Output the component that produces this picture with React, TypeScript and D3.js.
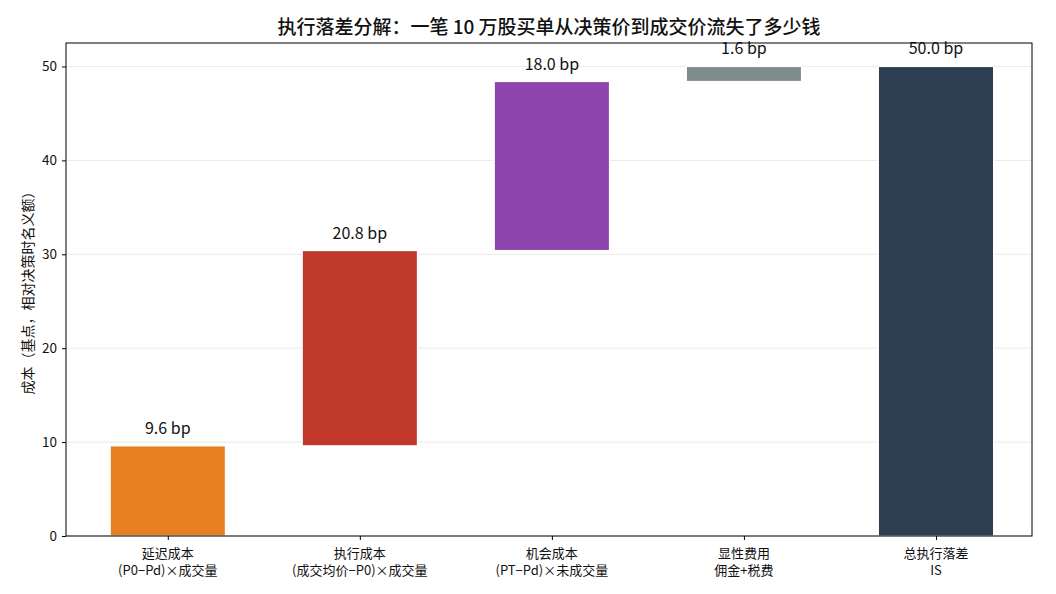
import React, { useEffect, useRef } from 'react';
import * as d3 from 'd3';

const categories = [
  ['延迟成本', '(P0−Pd)×成交量'],
  ['执行成本', '(成交均价−P0)×成交量'],
  ['机会成本', '(PT−Pd)×未成交量'],
  ['显性费用', '佣金+税费'],
  ['总执行落差', 'IS'],
];
const components = [9.6, 20.8, 18.0, 1.6];
const colors = ['#e67e22', '#c0392b', '#8e44ad', '#7f8c8d', '#2c3e50'];
const yTicks = [0, 10, 20, 30, 40, 50];

const FONT = '"Noto Sans CJK SC", "DejaVu Sans", sans-serif';

const App = () => {
  const svgRef = useRef<SVGSVGElement>(null);

  useEffect(() => {
    const W = 1040, H = 578;
    const margin = { top: 35, right: 16, bottom: 50, left: 58 };
    const width = W - margin.left - margin.right;
    const height = H - margin.top - margin.bottom;

    d3.select(svgRef.current).selectAll('*').remove();
    const svg = d3.select(svgRef.current)
      .attr('width', W)
      .attr('height', H)
      .style('display', 'block')
      .style('font-family', FONT);

    const g = svg.append('g').attr('transform', `translate(${margin.left},${margin.top})`);

    // waterfall: each step floats on the running total, last bar is the total
    const total = d3.sum(components);
    let run = 0;
    const bars = components.map((v, i) => {
      const b = { i, y0: run, y1: run + v, v };
      run += v;
      return b;
    });
    bars.push({ i: components.length, y0: 0, y1: total, v: total });

    const x = d3.scaleLinear().domain([-0.53, 4.5]).range([0, width]);
    const y = d3.scaleLinear().domain([0, 52.5]).range([height, 0]);
    const bw = x(0.6) - x(0);

    g.append('g').selectAll('line')
      .data(yTicks)
      .enter().append('line')
      .attr('x1', 0).attr('x2', width)
      .attr('y1', d => y(d)).attr('y2', d => y(d))
      .attr('stroke', '#e5e5e5').attr('stroke-width', 0.8);

    g.append('g').selectAll('rect')
      .data(bars)
      .enter().append('rect')
      .attr('x', d => x(d.i) - bw / 2)
      .attr('width', bw)
      .attr('y', d => y(d.y1))
      .attr('height', d => y(d.y0) - y(d.y1))
      .attr('fill', d => colors[d.i])
      .attr('stroke', '#ffffff')
      .attr('stroke-width', 1.2);

    g.append('g').selectAll('text')
      .data(bars)
      .enter().append('text')
      .attr('x', d => x(d.i))
      .attr('y', d => y(d.y1) - 12)
      .attr('text-anchor', 'middle')
      .attr('font-size', 16)
      .attr('fill', '#111')
      .text(d => `${d.v.toFixed(1)} bp`);

    // frame
    g.append('rect')
      .attr('width', width).attr('height', height)
      .attr('fill', 'none').attr('stroke', '#000').attr('stroke-width', 1);

    const yAxis = g.append('g')
      .call(d3.axisLeft(y).tickValues(yTicks).tickSize(4).tickPadding(5));
    yAxis.select('.domain').remove();
    yAxis.selectAll('text').attr('font-size', 13.5).attr('font-family', FONT).attr('fill', '#111');

    const xAxis = g.append('g')
      .attr('transform', `translate(0,${height})`)
      .call(d3.axisBottom(x).tickValues(d3.range(categories.length)).tickSize(4).tickFormat(() => ''));
    xAxis.select('.domain').remove();

    // two-line category labels, one text element per line
    const xl = g.append('g');
    [0, 1].forEach(line => {
      xl.selectAll(`text.l${line}`)
        .data(categories)
        .enter().append('text')
        .attr('class', `l${line}`)
        .attr('x', (_, i) => x(i))
        .attr('y', height + 22 + line * 17)
        .attr('text-anchor', 'middle')
        .attr('font-size', 13)
        .attr('fill', '#111')
        .text(d => d[line]);
    });

    g.append('text')
      .attr('transform', `translate(-33,${height / 2}) rotate(-90)`)
      .attr('text-anchor', 'middle')
      .attr('font-size', 14)
      .attr('fill', '#111')
      .text('成本（基点，相对决策时名义额）');

    svg.append('text')
      .attr('x', margin.left + width / 2)
      .attr('y', 26)
      .attr('text-anchor', 'middle')
      .attr('font-size', 19)
      .attr('font-weight', 500)
      .attr('fill', '#111')
      .text('执行落差分解：一笔 10 万股买单从决策价到成交价流失了多少钱');
  }, []);

  return <svg ref={svgRef}></svg>;
};

export default App;
